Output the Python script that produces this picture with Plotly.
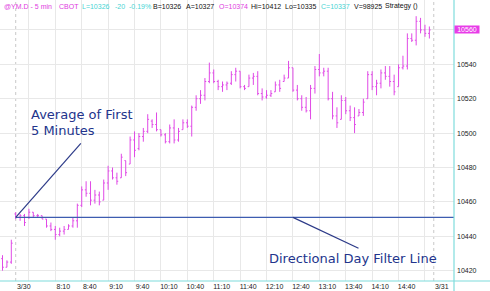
import plotly.graph_objects as go

# ---------------- data ----------------
# bar index: 0 = first 5-min bar of 3/30 session (7:25), negatives = prior session
bar_index = list(range(-3, 95))

highs = [10429, 10426, 10438,
         10454, 10453, 10453, 10456, 10454, 10453, 10452, 10450, 10448, 10446,
         10445, 10446, 10447, 10451, 10459, 10469, 10472, 10472, 10467, 10466,
         10473, 10481, 10480, 10477, 10488, 10484, 10498, 10501, 10500, 10503,
         10511, 10508, 10512, 10502, 10500, 10505, 10508, 10503, 10508, 10508,
         10516, 10522, 10525, 10532, 10541, 10537, 10531, 10530, 10530, 10536,
         10538, 10536, 10528, 10534, 10535, 10536, 10526, 10525, 10525, 10530,
         10531, 10534, 10542, 10538, 10528, 10522, 10521, 10528, 10539, 10546,
         10538, 10538, 10524, 10515, 10522, 10521, 10516, 10515, 10514, 10520,
         10536, 10536, 10531, 10537, 10539, 10539, 10534, 10540, 10545, 10558,
         10558, 10568, 10567, 10563, 10562]
lows = [10420, 10422, 10424,
        10450, 10449, 10446, 10450, 10451, 10451, 10450, 10445, 10443, 10438,
        10440, 10441, 10444, 10445, 10445, 10457, 10463, 10458, 10459, 10458,
        10461, 10467, 10473, 10470, 10474, 10475, 10482, 10486, 10490, 10495,
        10500, 10503, 10501, 10498, 10494, 10494, 10494, 10495, 10502, 10503,
        10498, 10513, 10517, 10519, 10529, 10529, 10525, 10524, 10525, 10528,
        10530, 10526, 10525, 10527, 10528, 10522, 10519, 10520, 10521, 10524,
        10524, 10530, 10532, 10524, 10519, 10513, 10512, 10508, 10523, 10533,
        10533, 10519, 10508, 10503, 10508, 10511, 10507, 10500, 10510, 10510,
        10520, 10525, 10522, 10526, 10531, 10527, 10522, 10527, 10537, 10537,
        10553, 10551, 10558, 10556, 10555]
opens = [10427, 10422, 10425,
         10453, 10451, 10452, 10451, 10454, 10452, 10452, 10450, 10446, 10444,
         10441, 10443, 10444, 10446, 10449, 10458, 10467, 10465, 10461, 10464,
         10461, 10471, 10478, 10474, 10474, 10484, 10482, 10496, 10491, 10498,
         10501, 10507, 10505, 10502, 10499, 10495, 10503, 10496, 10502, 10506,
         10504, 10515, 10520, 10522, 10530, 10535, 10530, 10527, 10528, 10529,
         10534, 10536, 10527, 10527, 10532, 10533, 10523, 10521, 10522, 10524,
         10528, 10530, 10532, 10538, 10525, 10520, 10515, 10513, 10526, 10537,
         10535, 10536, 10520, 10510, 10508, 10519, 10513, 10509, 10510, 10512,
         10520, 10534, 10527, 10529, 10535, 10533, 10530, 10527, 10538, 10539,
         10555, 10554, 10565, 10560, 10558]
closes = [10422, 10425, 10436,
          10451, 10452, 10448, 10454, 10452, 10452, 10450, 10446, 10444, 10441,
          10443, 10444, 10446, 10449, 10458, 10467, 10465, 10461, 10464, 10460,
          10471, 10478, 10474, 10472, 10486, 10477, 10496, 10490, 10498, 10501,
          10508, 10505, 10502, 10499, 10495, 10503, 10496, 10501, 10506, 10504,
          10515, 10520, 10522, 10530, 10535, 10530, 10527, 10528, 10529, 10534,
          10536, 10527, 10526, 10532, 10533, 10523, 10521, 10522, 10523, 10528,
          10526, 10532, 10538, 10525, 10520, 10515, 10513, 10526, 10537, 10535,
          10536, 10520, 10510, 10506, 10519, 10513, 10509, 10505, 10512, 10518,
          10534, 10527, 10529, 10535, 10533, 10530, 10524, 10538, 10539, 10555,
          10554, 10565, 10560, 10558, 10560]

filter_level = 10451          # average of first 5 minutes
session_breaks = [0, 95]      # 3/30 and 3/31 session starts
x_tickvals = [0, 9, 15, 21, 27, 33, 39, 45, 51, 57, 63, 69, 75, 81, 87, 95]
x_ticktext = ["3/30", "8:10", "8:40", "9:10", "9:40", "10:10", "10:40", "11:10",
              "11:40", "12:10", "12:40", "13:10", "13:40", "14:10", "14:40", "3/31"]
x_gridvals = [3, 9, 15, 21, 27, 33, 39, 45, 51, 57, 63, 69, 75, 81, 87, 93]
y_tickvals = [10420, 10440, 10460, 10480, 10500, 10520, 10540, 10560]

header_texts = ["@YM.D - 5 min", "CBOT", "L=10326", "-20", "-0.19%", "B=10326",
                "A=10327", "O=10374", "Hi=10412", "Lo=10335", "C=10337",
                "V=98925", "Strategy ()"]
header_colors = ["#e03ce0", "#e03ce0", "#48d4d4", "#48d4d4", "#48d4d4", "#111111",
                 "#111111", "#e03ce0", "#111111", "#111111", "#48d4d4",
                 "#111111", "#111111"]
header_x_px = [1.5, 57, 80, 113, 127, 151, 184, 217, 249, 283, 319, 352, 383]

# ---------------- layout geometry ----------------
W, H = 490, 291
ML, MR, MT, MB = 0, 36, 0, 10
PW, PH = W - ML - MR, H - MT - MB
x_range = [-3.57, 99.6]
y_range = [10414.0, 10577.4]

BAR = "#e04ae6"
NAVY = "#22348c"
GRID = "#e8e8e8"
CYAN = "#7fdcdc"

fig = go.Figure()

fig.add_trace(go.Ohlc(
    x=bar_index, open=opens, high=highs, low=lows, close=closes,
    increasing=dict(line=dict(color=BAR, width=1)),
    decreasing=dict(line=dict(color=BAR, width=1)),
    tickwidth=0.3, showlegend=False, hoverinfo="skip"))

# directional day filter line
fig.add_trace(go.Scatter(
    x=[session_breaks[0], x_range[1]], y=[filter_level, filter_level],
    mode="lines", line=dict(color="#3d5cb0", width=1.2),
    showlegend=False, hoverinfo="skip"))

shapes = []
for sb in session_breaks:
    shapes.append(dict(type="line", xref="x", yref="paper", x0=sb, x1=sb, y0=0, y1=1,
                       line=dict(color="#c8c8c8", width=1, dash="dot"), layer="below"))
# pointer lines
shapes.append(dict(type="line", xref="x", yref="y", x0=session_breaks[0], y0=filter_level,
                   x1=14.8, y1=10494, line=dict(color="#2c3a88", width=1.2)))
shapes.append(dict(type="line", xref="x", yref="y", x0=63, y0=filter_level,
                   x1=77.9, y1=10433, line=dict(color="#2c3a88", width=1.2)))
# cyan frame lines extending to canvas edges
shapes.append(dict(type="line", xref="paper", yref="paper", x0=1, x1=1,
                   y0=-MB / PH, y1=1, line=dict(color=CYAN, width=1.2)))
shapes.append(dict(type="line", xref="paper", yref="paper", x0=0, x1=W / PW,
                   y0=0, y1=0, line=dict(color=CYAN, width=1.2)))

annotations = []
for t, c, px in zip(header_texts, header_colors, header_x_px):
    annotations.append(dict(text=t, xref="paper", yref="paper", x=px / PW, y=1 - 6.5 / PH,
                            xanchor="left", yanchor="middle", showarrow=False,
                            font=dict(family="Liberation Sans, Arial", size=7, color=c)))
annotations.append(dict(text="Average of First", xref="x", yref="y", x=3.0, y=10511,
                        xanchor="left", yanchor="middle", showarrow=False,
                        font=dict(family="DejaVu Sans", size=13, color=NAVY)))
annotations.append(dict(text="5 Minutes", xref="x", yref="y", x=3.0, y=10501.8,
                        xanchor="left", yanchor="middle", showarrow=False,
                        font=dict(family="DejaVu Sans", size=13, color=NAVY)))
annotations.append(dict(text="Directional Day Filter Line", xref="x", yref="y", x=57.1,
                        y=10426.8, xanchor="left", yanchor="middle", showarrow=False,
                        font=dict(family="DejaVu Sans", size=13, color=NAVY)))
# last price marker
annotations.append(dict(text=str(closes[-1]), xref="paper", yref="y", x=1.0, y=closes[-1],
                        xanchor="left", yanchor="middle", showarrow=False,
                        bgcolor="#e83ce8", width=24, height=7, borderpad=0,
                        font=dict(family="Liberation Sans, Arial", size=7, color="white")))

fig.update_layout(
    width=W, height=H, margin=dict(l=ML, r=MR, t=MT, b=MB),
    paper_bgcolor="white", plot_bgcolor="white",
    shapes=shapes, annotations=annotations, showlegend=False,
    xaxis=dict(range=x_range, tickmode="array", tickvals=x_tickvals, ticktext=x_ticktext,
               showgrid=False, zeroline=False, showline=False, ticks="",
               ticklabelshift=8, ticklabelstandoff=0,
               tickfont=dict(family="Liberation Sans, Arial", size=7, color="#222222"),
               minor=dict(tickvals=x_gridvals, showgrid=True, gridcolor=GRID, gridwidth=1),
               rangeslider=dict(visible=False), fixedrange=True),
    yaxis=dict(range=y_range, side="right", tickmode="array", tickvals=y_tickvals,
               ticktext=[str(v) for v in y_tickvals],
               showgrid=True, gridcolor=GRID, gridwidth=1, zeroline=False,
               showline=False, ticks="", ticklabelstandoff=2,
               tickfont=dict(family="Liberation Sans, Arial", size=7, color="#222222"),
               fixedrange=True),
)

fig.write_html("out.html")
